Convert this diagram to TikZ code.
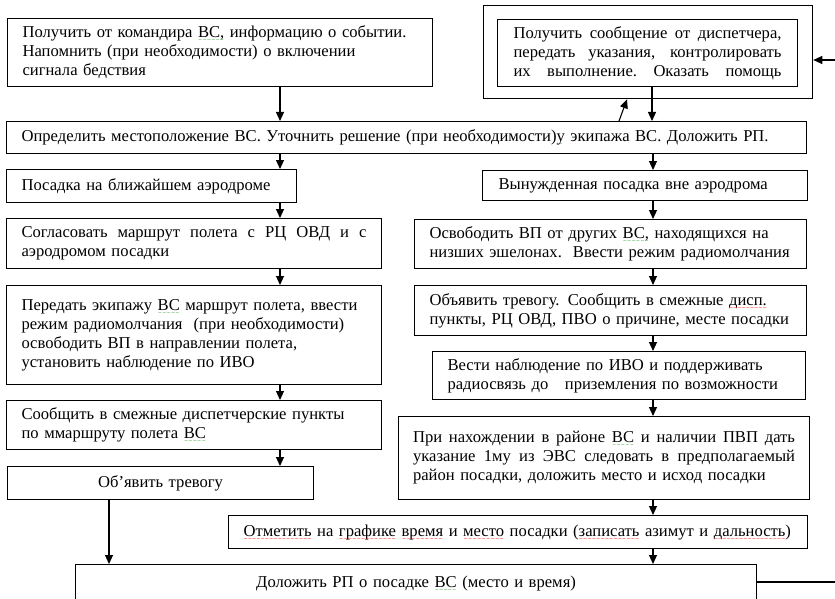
\documentclass[tikz,border=0pt]{standalone}
\usepackage{fontspec}
\setmainfont{Liberation Serif}
\newfontfamily\wavefont{DejaVu Sans}
\usetikzlibrary{arrows.meta,calc}
\definecolor{gwave}{RGB}{60,160,60}
\newsavebox\wvbox
\newcommand\wv[2]{\sbox\wvbox{#2}\leavevmode\rlap{\usebox\wvbox}\raisebox{-4pt}[0pt][0pt]{\color{#1}\hbox to \wd\wvbox{\xleaders\hbox{\wavefont\fontsize{5}{5}\selectfont\char"007E}\hfill}}}
\newcommand\rw[1]{\wv{red}{#1}}
\newcommand\gw[1]{\wv{gwave}{#1}}
\newcommand\jl[2]{\leavevmode\hbox to #1pt{\spaceskip=0.25em plus 1em\xspaceskip=0.25em plus 1em\relax #2}}
\tikzset{
  bx/.style={draw, line width=1.1pt, anchor=north west, align=left, inner xsep=15pt, inner ysep=0pt, font=\fontsize{16.6}{19}\selectfont},
  cbx/.style={bx, align=center},
  arr/.style={line width=1.1pt, -{Triangle[length=9pt,width=8pt]}},
  ln/.style={line width=1.1pt}
}
\begin{document}
\begin{tikzpicture}[x=1pt,y=-1pt]
\useasboundingbox (0,0) rectangle (835,599);
\clip (0,0) rectangle (835,599);
\coordinate (cL) at (280,0);
\coordinate (cR) at (653,0);
% top left
\node[bx, text width=395, minimum width=425, minimum height=68] (b1) at (7,18)
 {Получить от командира \gw{ВС,} информацию о событии.\\Напомнить (при необходимости) о включении\\сигнала бедствия};
% top right
\node[draw, line width=1.3pt, anchor=north west, minimum width=329, minimum height=93, inner sep=0pt] (outer) at (483,5) {};
\node[bx, inner xsep=16pt, text width=268, minimum width=300, minimum height=67] (inner) at (497,19)
 {\jl{268}{Получить сообщение от  диспетчера,}\\\jl{268}{передать указания, контролировать}\\\jl{268}{их выполнение. Оказать помощь}};
% main bar
\node[bx, text width=770, minimum width=800, minimum height=32] (bar) at (6,121)
 {Определить местоположение ВС. Уточнить решение (при необходимости)\gw{у} экипажа ВС. Доложить РП.};
% left column
\node[bx, text width=260, minimum width=290, minimum height=33] (l2) at (6,169)
 {Посадка на ближайшем аэродроме};
\node[bx, text width=345, minimum width=375, minimum height=50] (l3) at (6,218)
 {\jl{345}{Согласовать маршрут полета с РЦ ОВД и с}\\аэродромом посадки};
\node[bx, text width=345, minimum width=375, minimum height=99] (l4) at (6,285)
 {Передать экипажу \gw{ВС} маршрут полета, ввести\\режим радиомолчания\ \ (при необходимости)\\освободить ВП в направлении полета,\\установить наблюдение по ИВО};
\node[bx, text width=345, minimum width=375, minimum height=49] (l5) at (6,400)
 {Сообщить в смежные диспетчерские пункты\\по ммаршруту полета \gw{ВС}};
\node[cbx, text width=276, minimum width=306, minimum height=33] (l6) at (7,466)
 {Об’явить тревогу};
% right column
\node[bx, inner xsep=16pt, text width=293, minimum width=325, minimum height=30] (r2) at (482,170)
 {Вынужденная посадка вне аэродрома};
\node[bx, inner xsep=15pt, text width=362, minimum width=392, minimum height=49] (r3) at (414,219)
 {\mbox{Освободить ВП от других \gw{ВС,} находящихся на}\\\mbox{низших эшелонах.\ \ Ввести режим радиомолчания}};
\node[bx, inner xsep=15pt, text width=362, minimum width=392, minimum height=50] (r4) at (414,285)
 {\mbox{Объявить тревогу. Сообщить в смежные \rw{дисп.}}\\\mbox{пункты, РЦ ОВД, ПВО о причине, месте посадки}};
\node[bx, text width=343, minimum width=373, minimum height=48] (r5) at (432,351)
 {Вести наблюдение по ИВО и поддерживать\\радиосвязь до\ \ \ приземления по возможности};
\node[bx, inner xsep=14.5pt, text width=382, minimum width=411, minimum height=83] (r6) at (398,416)
 {\jl{382}{При нахождении в районе \gw{ВС} и наличии ПВП дать}\\\jl{382}{указание 1му из ЭВС следовать в предполагаемый}\\район посадки, доложить место и исход посадки};
\node[bx, text width=549, minimum width=579, minimum height=33] (mark) at (228,515)
 {\rw{Отметить} на \rw{графике} \rw{время} и \rw{место} посадки (\rw{записать} азимут и \rw{дальность})};
\node[cbx, text width=651, minimum width=681, minimum height=37] (rep) at (75,564)
 {Доложить РП о посадке \gw{ВС} (место и время)};
% connectors
\draw[arr] (b1.south -| cL) -- (bar.north -| cL);
\draw[arr] (inner.south -| 652,0) -- (bar.north -| 652,0);
\draw[arr] (bar.north -| 619,0) -- (outer.south -| 627,0);
\draw[arr] (bar.south -| cL) -- (l2.north -| cL);
\draw[arr] (bar.south -| cR) -- (r2.north -| cR);
\draw[arr] (l2.south -| cL) -- (l3.north -| cL);
\draw[arr] (l3.south -| cL) -- (l4.north -| cL);
\draw[arr] (l4.south -| cL) -- (l5.north -| cL);
\draw[arr] (l5.south -| cL) -- (l6.north -| cL);
\draw[arr] (r2.south -| cR) -- (r3.north -| cR);
\draw[arr] (r3.south -| cR) -- (r4.north -| cR);
\draw[arr] (r4.south -| cR) -- (r5.north -| cR);
\draw[arr] (r5.south -| cR) -- (r6.north -| cR);
\draw[arr] (r6.south -| cR) -- (mark.north -| cR);
\draw[arr] (mark.south -| cR) -- (rep.north -| cR);
\draw[arr] (l6.south -| 109,0) -- (rep.north -| 109,0);
\coordinate (back) at (850,0);
\draw[arr] (rep.east |- 0,582) -- (back |- 0,582) -- (back |- 0,60) -- (outer.east |- 0,60);
\end{tikzpicture}
\end{document}
